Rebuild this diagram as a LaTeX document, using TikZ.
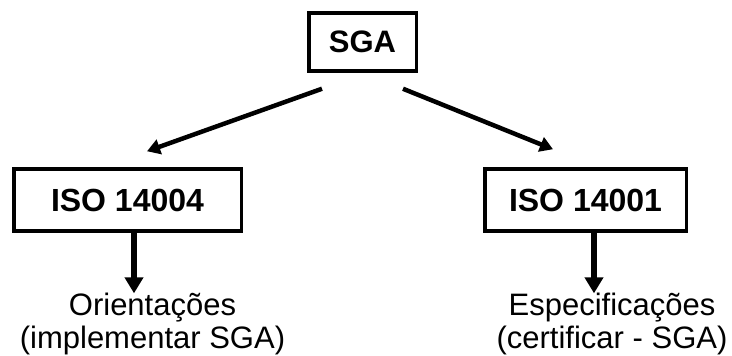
\documentclass[tikz,border=0pt]{standalone}
\usepackage{fontspec}
\setmainfont{Liberation Sans}
\usetikzlibrary{arrows.meta}
\begin{document}
\begin{tikzpicture}[x=1pt,y=-1pt,
  boxstyle/.style={draw=black,line width=3.5pt,inner sep=0pt,font=\fontsize{32}{36}\selectfont\bfseries},
  labelstyle/.style={inner sep=0pt,anchor=base,font=\fontsize{31}{36}\selectfont},
  diagarrow/.style={line width=4.5pt,-{Triangle[length=13pt,width=15pt]}},
  vertarrow/.style={line width=6.5pt,-{Triangle[length=16pt,width=18pt]}}]
\useasboundingbox (0,0) rectangle (732,356);
\node[boxstyle,minimum width=107.5pt,minimum height=58pt,font=\fontsize{31}{36}\selectfont\bfseries] (sga) at (362.5,42) {SGA};
\node[boxstyle,minimum width=227.5pt,minimum height=62pt] (b1) at (127.5,200) {ISO 14004};
\node[boxstyle,minimum width=201.5pt,minimum height=62pt] (b2) at (585.5,200) {ISO 14001};
\node[labelstyle] (t1a) at (152.5,315) {Orientações};
\node[labelstyle] (t1b) at (152.5,348) {(implementar SGA)};
\node[labelstyle] (t2a) at (612,315) {Especificações};
\node[labelstyle] (t2b) at (612,348) {(certificar - SGA)};
\draw[diagarrow] ([shift={(15pt,-16pt)}]sga.south west) -- ([shift={(19.5pt,16pt)}]b1.north);
\draw[diagarrow] ([shift={(-15pt,-16pt)}]sga.south east) -- ([shift={(-32.5pt,18pt)}]b2.north);
\draw[vertarrow] ([xshift=6.5pt]b1.south) -- ([xshift=6.5pt,yshift=-1pt]b1.south |- t1a.north);
\draw[vertarrow] ([xshift=8.5pt]b2.south) -- ([xshift=8.5pt,yshift=-1pt]b2.south |- t2a.north);
\end{tikzpicture}
\end{document}
